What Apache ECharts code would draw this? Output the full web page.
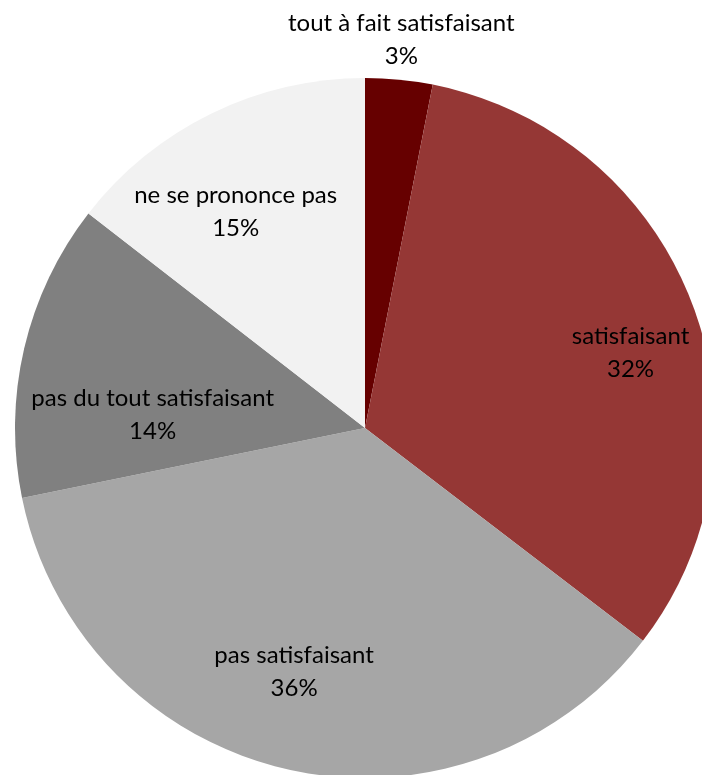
<!DOCTYPE html>
<html>
<head>
<meta charset="utf-8">
<script src="https://cdn.jsdelivr.net/npm/echarts@6/dist/echarts.min.js"></script>
<style>
html,body{margin:0;padding:0;background:#fff;}
#chart{width:702px;height:775px;}
</style>
</head>
<body>
<div id="chart"></div>
<script>
const categories = ["tout à fait satisfaisant", "satisfaisant", "pas satisfaisant", "pas du tout satisfaisant", "ne se prononce pas"];
const values = [3.1, 32.3, 36.4, 13.7, 14.5];
const colors = ["#660000", "#953735", "#A6A6A6", "#808080", "#F2F2F2"];
const labelOffsets = [[19, -211], [99, -12], [-31, 70], [-39, 27], [-51, -56]];

const chart = echarts.init(document.getElementById('chart'), null, {renderer: 'canvas'});
chart.setOption({
  animation: false,
  backgroundColor: '#fff',
  series: [{
    type: 'pie',
    center: [365, 428],
    radius: [0, 350],
    startAngle: 90,
    clockwise: true,
    avoidLabelOverlap: false,
    percentPrecision: 0,
    itemStyle: {borderWidth: 0},
    emphasis: {disabled: true},
    label: {
      show: true,
      position: 'inside',
      formatter: '{b}\n{d}%',
      color: '#000',
      fontFamily: 'Lato, "Open Sans", sans-serif',
      fontSize: 24,
      lineHeight: 33,
      align: 'center'
    },
    labelLine: {show: false},
    data: categories.map((c, i) => ({
      name: c,
      value: values[i],
      itemStyle: {color: colors[i]},
      label: {offset: labelOffsets[i]}
    }))
  }]
});
</script>
</body>
</html>
